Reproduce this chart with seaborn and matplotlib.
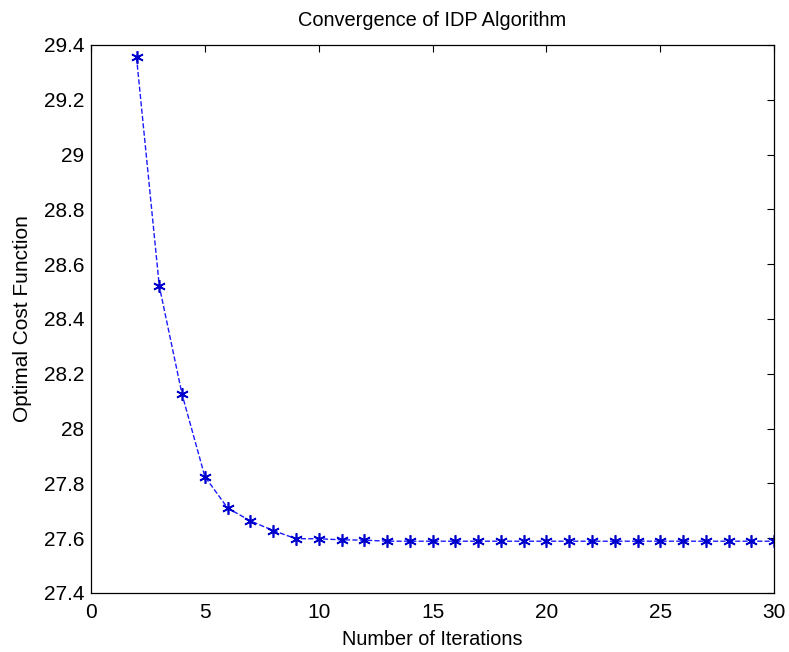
import matplotlib
matplotlib.use("Agg")
import matplotlib.pyplot as plt
import seaborn as sns
import pandas as pd

iterations = list(range(2, 31))
cost = [29.355, 28.52, 28.125, 27.825, 27.71, 27.663, 27.628, 27.598, 27.598,
        27.594, 27.593, 27.589, 27.589, 27.589, 27.589, 27.589, 27.589, 27.589,
        27.589, 27.589, 27.589, 27.589, 27.589, 27.589, 27.589, 27.589, 27.589,
        27.589, 27.589]
x_ticks = [0, 5, 10, 15, 20, 25, 30]
y_ticks = [27.4, 27.6, 27.8, 28, 28.2, 28.4, 28.6, 28.8, 29, 29.2, 29.4]
y_tick_labels = ["27.4", "27.6", "27.8", "28", "28.2", "28.4", "28.6", "28.8", "29", "29.2", "29.4"]

sns.set_style("white")
plt.rcParams['font.family'] = ['Liberation Sans', 'DejaVu Sans']
plt.rcParams['text.color'] = 'black'
plt.rcParams['axes.labelcolor'] = 'black'

df = pd.DataFrame({"Iteration": iterations, "Cost": cost})

fig = plt.figure(figsize=(7.89, 6.52), dpi=100)
ax = fig.add_axes([0.1153, 0.0905, 0.866, 0.8405])
sns.lineplot(data=df, x="Iteration", y="Cost", ax=ax, color="#1a1aff",
             linestyle="--", linewidth=1.0, marker=(6, 2, 0), markersize=9,
             markeredgecolor="#0000cc", markeredgewidth=1.2)

ax.set_xlim(0, 30)
ax.set_ylim(27.4, 29.4)
ax.set_xticks(x_ticks)
ax.set_xticklabels([str(t) for t in x_ticks])
ax.set_yticks(y_ticks)
ax.set_yticklabels(y_tick_labels)
ax.tick_params(direction="in", length=5, width=0.8, top=True, right=True,
               labelsize=15, colors="black", pad=5)
ax.tick_params(axis="x", pad=7)
for s in ax.spines.values():
    s.set_color("black")
    s.set_linewidth(0.9)
ax.set_xlabel("Number of Iterations", fontsize=14.3, labelpad=6)
ax.set_ylabel("Optimal Cost Function", fontsize=15, labelpad=8)
ax.set_title("Convergence of IDP Algorithm", fontsize=14.4, pad=14)

fig.savefig("out.png", dpi=100)
